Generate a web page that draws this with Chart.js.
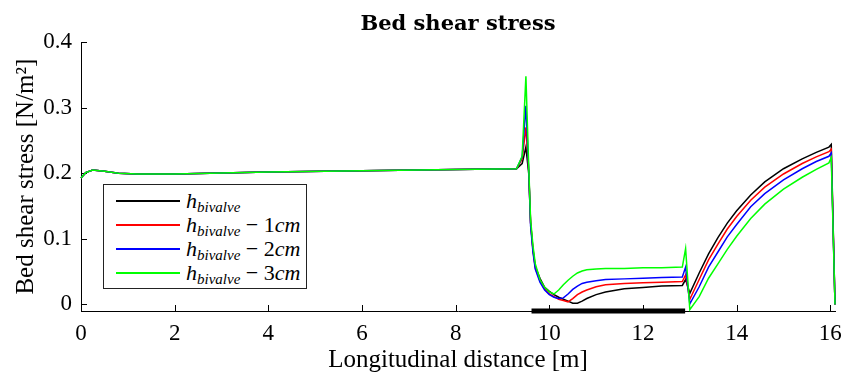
<!DOCTYPE html>
<html>
<head>
<meta charset="utf-8">
<title>Bed shear stress</title>
<script src="https://cdn.jsdelivr.net/npm/chart.js@4.4.1/dist/chart.umd.min.js"></script>
<style>
  body { margin: 0; background: #fff; }
  #wrap { position: relative; width: 841px; height: 372px; }
  #legend {
    position: absolute; left: 103px; top: 184px; width: 204px; height: 105px;
    box-sizing: border-box; border: 1px solid #222; background: #fff;
    padding-top: 4px; font-family: "Liberation Serif", serif; color: #000;
  }
  #legend .row { display: flex; align-items: center; height: 24px; }
  #legend .swatch { margin-left: 12px; width: 64px; height: 2px; }
  #legend .lbl { margin-left: 6px; font-size: 22px; line-height: 1; white-space: nowrap; }
  #legend sub { font-size: 15px; line-height: 0; vertical-align: -4px; }
</style>
</head>
<body>
<div id="wrap">
  <canvas id="chart" width="841" height="372"></canvas>
  <div id="legend">
    <div class="row"><span class="swatch" style="background:#000000"></span><span class="lbl"><i>h</i><sub><i>bivalve</i></sub></span></div>
    <div class="row"><span class="swatch" style="background:#ff0000"></span><span class="lbl"><i>h</i><sub><i>bivalve</i></sub> − 1<i>cm</i></span></div>
    <div class="row"><span class="swatch" style="background:#0000ff"></span><span class="lbl"><i>h</i><sub><i>bivalve</i></sub> − 2<i>cm</i></span></div>
    <div class="row"><span class="swatch" style="background:#00ff00"></span><span class="lbl"><i>h</i><sub><i>bivalve</i></sub> − 3<i>cm</i></span></div>
  </div>
</div>
<script>
// longitudinal positions [m] where values were read
const xAt = [0, 0.1, 0.25, 0.5, 0.8, 1.2, 2, 4, 6, 8, 9.3, 9.42, 9.5, 9.56, 9.6, 9.65, 9.7, 9.8, 9.9, 10.0,
  10.1, 10.2, 10.3, 10.4, 10.5, 10.6, 10.7, 10.8, 11.0, 11.2, 11.6, 12.0, 12.4, 12.84, 12.91, 13.0,
  13.2, 13.4, 13.6, 13.8, 14.0, 14.3, 14.6, 15.0, 15.4, 15.7, 15.97, 16.02, 16.1];

// bed shear stress [N/m2]
const hBivalve = [0.193, 0.201, 0.205, 0.203, 0.200, 0.199, 0.199, 0.202, 0.204, 0.206, 0.207, 0.215, 0.240, 0.200, 0.125, 0.085, 0.058, 0.040, 0.026, 0.020,
  0.015, 0.011, 0.008, 0.005, 0.002, 0.002, 0.005, 0.009, 0.015, 0.019, 0.024, 0.026, 0.028, 0.029, 0.038, 0.017,
  0.048, 0.077, 0.102, 0.124, 0.143, 0.167, 0.187, 0.207, 0.222, 0.232, 0.240, 0.244, 0.0];
const hMinus1cm = [0.193, 0.201, 0.205, 0.203, 0.200, 0.199, 0.199, 0.202, 0.204, 0.206, 0.207, 0.222, 0.270, 0.205, 0.125, 0.083, 0.056, 0.036, 0.024, 0.016,
  0.012, 0.008, 0.006, 0.004, 0.009, 0.015, 0.019, 0.022, 0.027, 0.030, 0.032, 0.033, 0.034, 0.035, 0.045, 0.008,
  0.038, 0.068, 0.092, 0.115, 0.134, 0.159, 0.179, 0.199, 0.215, 0.225, 0.233, 0.237, 0.0];
const hMinus2cm = [0.193, 0.201, 0.205, 0.203, 0.200, 0.199, 0.199, 0.202, 0.204, 0.206, 0.207, 0.225, 0.303, 0.205, 0.120, 0.080, 0.054, 0.034, 0.022, 0.015,
  0.011, 0.009, 0.010, 0.016, 0.023, 0.028, 0.032, 0.034, 0.036, 0.038, 0.039, 0.040, 0.041, 0.042, 0.057, 0.001,
  0.027, 0.057, 0.080, 0.103, 0.122, 0.149, 0.169, 0.190, 0.207, 0.218, 0.226, 0.231, 0.0];
const hMinus3cm = [0.193, 0.201, 0.205, 0.203, 0.200, 0.199, 0.199, 0.202, 0.204, 0.206, 0.207, 0.226, 0.348, 0.210, 0.130, 0.090, 0.062, 0.038, 0.026, 0.019,
  0.016, 0.022, 0.030, 0.037, 0.043, 0.048, 0.051, 0.053, 0.054, 0.055, 0.055, 0.056, 0.056, 0.057, 0.085, -0.008,
  0.012, 0.040, 0.062, 0.084, 0.104, 0.131, 0.153, 0.176, 0.194, 0.206, 0.216, 0.224, 0.0];

// extent of the bivalve bed, drawn on the bottom axis
const bedX = [9.62, 12.9];
const bedY = [-0.01, -0.01];

const xTicks = [0, 2, 4, 6, 8, 10, 12, 14, 16];
const yTicks = [0, 0.1, 0.2, 0.3, 0.4];

const serif = '"Liberation Serif", serif';

function pts(xs, ys) {
  return xs.map((x, i) => ({ x: x, y: ys[i] }));
}

function series(label, ys, color, order) {
  return {
    label: label, data: pts(xAt, ys), borderColor: color, backgroundColor: color,
    borderWidth: 1.5, pointRadius: 0, tension: 0, order: order, clip: false
  };
}

// matlab style ticks pointing into the plot
const inwardTicks = {
  id: 'inwardTicks',
  beforeDatasetsDraw(chart) {
    const { ctx, scales: { x, y } } = chart;
    ctx.save();
    ctx.strokeStyle = '#000';
    ctx.lineWidth = 1;
    ctx.beginPath();
    xTicks.forEach(v => {
      const px = Math.round(x.getPixelForValue(v)) + 0.5;
      ctx.moveTo(px, y.bottom);
      ctx.lineTo(px, y.bottom - 6);
    });
    yTicks.forEach(v => {
      const py = Math.round(y.getPixelForValue(v)) + 0.5;
      ctx.moveTo(x.left, py);
      ctx.lineTo(x.left + 6, py);
    });
    ctx.stroke();
    ctx.restore();
  }
};

new Chart(document.getElementById('chart'), {
  type: 'line',
  data: {
    datasets: [
      series('h_bivalve', hBivalve, '#000000', 4),
      series('h_bivalve - 1cm', hMinus1cm, '#ff0000', 3),
      series('h_bivalve - 2cm', hMinus2cm, '#0000ff', 2),
      series('h_bivalve - 3cm', hMinus3cm, '#00ff00', 1),
      {
        label: 'bed', data: pts(bedX, bedY), borderColor: '#000', borderWidth: 5,
        borderCapStyle: 'butt', pointRadius: 0, order: 0, clip: false
      }
    ]
  },
  options: {
    responsive: false,
    animation: false,
    layout: { padding: { left: 0, right: 6, top: 0, bottom: 0 } },
    plugins: {
      legend: { display: false },
      tooltip: { enabled: false },
      title: {
        display: true,
        text: 'Bed shear stress',
        fullSize: false,
        color: '#000',
        font: { family: '"DejaVu Serif", serif', size: 21, weight: 'bold' },
        padding: { top: 12, bottom: 5 }
      }
    },
    scales: {
      x: {
        type: 'linear', min: 0, max: 16.1,
        afterBuildTicks: s => { s.ticks = xTicks.map(v => ({ value: v })); },
        afterFit: s => { s.height = 61; s.paddingRight = 0; s.paddingLeft = 0; },
        grid: { display: false, drawTicks: false },
        border: { display: true, color: '#000', width: 1 },
        ticks: { color: '#000', font: { family: serif, size: 23 }, padding: 9, maxRotation: 0 },
        title: { display: true, text: 'Longitudinal distance [m]', color: '#000',
          font: { family: serif, size: 25 }, padding: { top: 0, bottom: -3 } }
      },
      y: {
        type: 'linear', min: -0.01, max: 0.4,
        afterBuildTicks: s => { s.ticks = yTicks.map(v => ({ value: v })); },
        afterFit: s => { s.width = 81; },
        grid: { display: false, drawTicks: false },
        border: { display: true, color: '#000', width: 1 },
        ticks: { color: '#000', font: { family: serif, size: 23 }, padding: 9, callback: v => String(v) },
        title: { display: true, text: 'Bed shear stress [N/m²]', color: '#000',
          font: { family: serif, size: 25 }, padding: { top: 11, bottom: 0 } }
      }
    }
  },
  plugins: [inwardTicks]
});
</script>
</body>
</html>
